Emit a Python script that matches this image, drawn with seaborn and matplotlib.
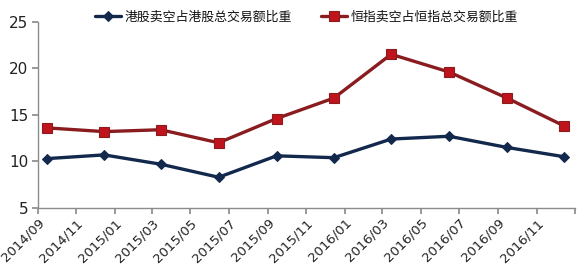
import matplotlib
matplotlib.use("Agg")
import matplotlib.pyplot as plt
import matplotlib.dates as mdates
import seaborn as sns
import pandas as pd

dates = ["2014-09-15", "2014-12-15", "2015-03-15", "2015-06-15", "2015-09-15",
         "2015-12-15", "2016-03-15", "2016-06-15", "2016-09-15", "2016-12-15"]
hk_short = [10.3, 10.7, 9.7, 8.3, 10.6, 10.4, 12.4, 12.7, 11.5, 10.5]
hsi_short = [13.6, 13.2, 13.4, 12.0, 14.6, 16.8, 21.5, 19.6, 16.8, 13.8]
name_hk = "港股卖空占港股总交易额比重"
name_hsi = "恒指卖空占恒指总交易额比重"
tick_dates = pd.date_range("2014-09-01", "2017-01-01", freq="2MS")
tick_labels = [d.strftime("%Y/%m") for d in tick_dates[:-1]] + [""]

sns.set_theme(style="white")
plt.rcParams['font.family'] = ['Noto Sans CJK SC', 'DejaVu Sans']

df = pd.DataFrame({"date": pd.to_datetime(dates), name_hk: hk_short, name_hsi: hsi_short})

fig = plt.figure(figsize=(5.86, 2.71), dpi=100)
ax = fig.add_axes([0.0648, 0.2325, 0.9164, 0.6875])

sns.lineplot(data=df, x="date", y=name_hk, ax=ax, color="#13284d", linewidth=2.4,
             marker="D", markersize=5.5, markeredgecolor="#13284d", label=name_hk)
sns.lineplot(data=df, x="date", y=name_hsi, ax=ax, color="#8a1c1f", linewidth=2.4,
             marker="s", markersize=7, markerfacecolor="#c0141c", markeredgecolor="#8a1c1f",
             markeredgewidth=0.8, label=name_hsi)

ax.set_ylim(5, 25)
ax.set_yticks([5, 10, 15, 20, 25])
ax.set_xlim(tick_dates[0], tick_dates[-1])
ax.set_xticks(tick_dates)
ax.set_xticklabels(tick_labels, rotation=45, ha="right", rotation_mode="anchor")
ax.set_xlabel("")
ax.set_ylabel("")
for s in ["top", "right"]:
    ax.spines[s].set_visible(False)
for s in ["left", "bottom"]:
    ax.spines[s].set_color("#8c8c8c")
    ax.spines[s].set_linewidth(1.0)
ax.tick_params(axis="both", which="both", direction="out", length=4, color="#8c8c8c",
               labelcolor="#222222", bottom=True, left=True)
ax.tick_params(axis="x", pad=2, labelsize=9.5)
ax.tick_params(axis="y", pad=3, labelsize=11)
for t in ax.get_xticklabels() + ax.get_yticklabels():
    t.set_fontfamily(['DejaVu Sans'])

leg = ax.legend(loc="center", bbox_to_anchor=(0.523, 0.937), bbox_transform=fig.transFigure,
                ncol=2, frameon=False, fontsize=9.3, handlelength=2.0, columnspacing=2.2,
                handletextpad=0.3, borderaxespad=0)
for t in leg.get_texts():
    t.set_fontweight("medium")
    t.set_color("#111111")

fig.savefig("out.png", dpi=100)
